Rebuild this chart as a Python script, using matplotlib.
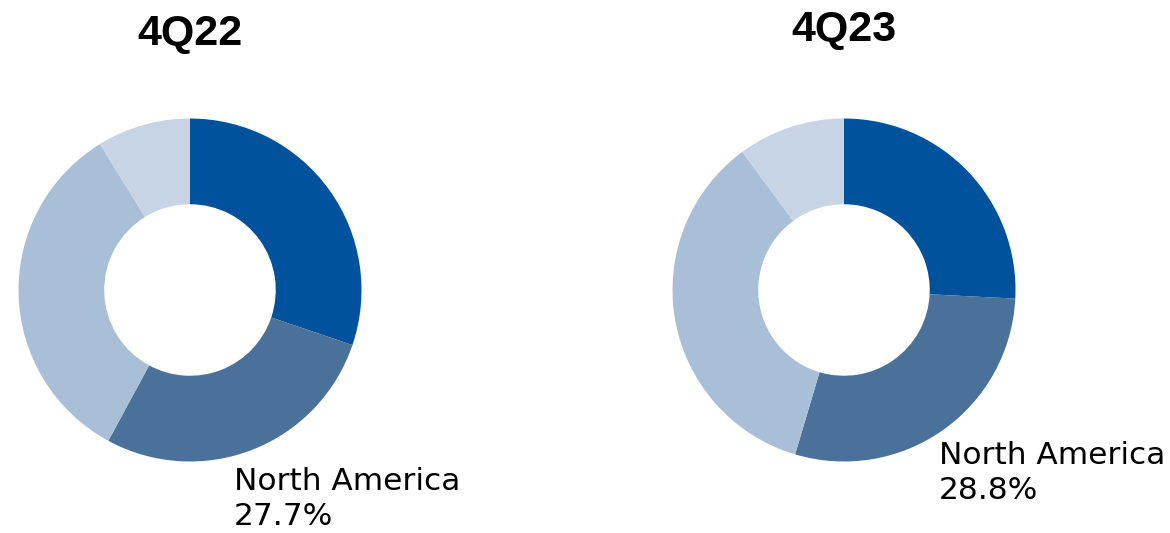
import matplotlib
matplotlib.use("Agg")
import matplotlib.pyplot as plt

# regional mix, clockwise from 12 o'clock
regions = ["Region A", "North America", "Region C", "Other"]
share_4q22 = [30.2, 27.7, 33.3, 8.8]
share_4q23 = [25.8, 28.8, 35.3, 10.1]
titles = ["4Q22", "4Q23"]
labels = ["North America\n27.7%", "North America\n28.8%"]

colors = ["#00529C", "#4A7199", "#A9BFD7", "#C6D4E5"]

W, H = 1170, 533
fig = plt.figure(figsize=(W / 100, H / 100), dpi=100)

R = 171.5
centers = [(190, 290), (844, 290)]
title_pos = [(190, 34), (844, 30)]
label_pos = [(234, 467), (939, 441)]

for shares, title, lab, (cx, cy), (tx, ty), (lx, ly) in zip(
        [share_4q22, share_4q23], titles, labels, centers, title_pos, label_pos):
    ax = fig.add_axes([(cx - R) / W, (H - cy - R) / H, 2 * R / W, 2 * R / H])
    ax.pie(shares, colors=colors, startangle=90, counterclock=False,
           radius=1, wedgeprops=dict(width=0.5, linewidth=0))
    ax.set_xlim(-1, 1)
    ax.set_ylim(-1, 1)
    ax.set_aspect("equal")
    ax.axis("off")

    fig.text(tx / W, 1 - ty / H, title, ha="center", va="center",
             fontsize=31, fontweight="bold", family="Liberation Sans")
    fig.text(lx / W, 1 - ly / H, lab, ha="left", va="top",
             fontsize=22.5, family="DejaVu Sans", linespacing=1.25)

fig.savefig("out.png", dpi=100, facecolor="white")
